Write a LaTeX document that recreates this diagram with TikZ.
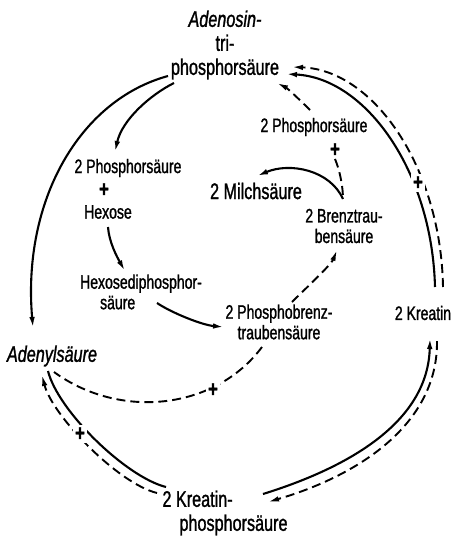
\documentclass[tikz,border=0pt]{standalone}
\usepackage{fontspec}
\setmainfont[FakeStretch=0.72, FakeBold=1.2]{Liberation Sans}
\usepackage{tikz}
\usetikzlibrary{arrows.meta}

\begin{document}
\begin{tikzpicture}[x=1pt, y=1pt,
    every node/.style={inner sep=1pt},
    bigtext/.style={font=\fontsize{22.5}{24}\selectfont},
    midtext/.style={font=\fontsize{19.5}{20.5}\selectfont},
    plussign/.style={font=\fontsize{23}{23}\selectfont\bfseries, fill=white, inner sep=2pt},
    fwd/.style={line width=2.1pt},
    rev/.style={line width=1.9pt, dash pattern=on 9pt off 5pt},
    tip/.style={-{Latex[length=11pt,width=5.5pt]}}]
    \useasboundingbox (0,0) rectangle (456,-536);

    % substances
    \node[bigtext, align=center] (atp) at (225,-45) {{\itshape Adenosin-}\\tri-\\phosphorsäure};
    \node[midtext] (phosA) at (128,-168) {2 Phosphorsäure};
    \node[midtext] (hexose) at (108,-212) {Hexose};
    \node[midtext, align=left] (hdp) at (141,-292) {Hexosediphosphor-\\\hspace*{20pt}säure};
    \node[midtext, align=center] (pbt) at (279,-322) {2 Phosphobrenz-\\traubensäure};
    \node[midtext, align=center] (bt) at (344,-226) {2 Brenztrau-\\bensäure};
    \node[bigtext] (milch) at (256,-191) {2 Milchsäure};
    \node[midtext] (phosB) at (314,-127) {2 Phosphorsäure};
    \node[bigtext] (adenyl) at (52,-356) {\itshape Adenylsäure};
    \node[midtext] (kreatin) at (423,-313) {2 Kreatin};
    \node[bigtext, align=left] (kp) at (225,-513) {2 Kreatin-\\\hspace*{17pt}phosphorsäure};
    \coordinate (vtip) at ([shift={(-1pt,27pt)}]bt.center);

    % glycolysis side
    \draw[fwd, tip] ([shift={(-57pt,-31pt)}]atp.center) .. controls +(-88,-24) and +(-11,128) .. ([shift={(-19pt,28pt)}]adenyl.center);
    \draw[fwd, tip] ([shift={(-51pt,-38pt)}]atp.center) .. controls +(-24,-12) and +(7,32) .. ([shift={(-13pt,16pt)}]phosA.center);
    \draw[fwd, tip] ([yshift=-15pt]hexose.center) .. controls +(1,-15) and +(-8,14) .. ([shift={(-16pt,21pt)}]hdp.center);
    \draw[fwd, tip] ([shift={(16pt,-11pt)}]hdp.center) .. controls +(15,-10) and +(-22,2) .. ([shift={(-55pt,-5pt)}]pbt.center);
    \draw[rev, tip] ([shift={(13pt,20pt)}]pbt.center) .. controls +(12,12) and +(-6,-15) .. ([shift={(-7pt,-24pt)}]bt.center);
    \draw[rev] ([shift={(-17pt,-25pt)}]pbt.center) .. controls +(-47,-63) and +(66,-48) .. ([shift={(2pt,-16pt)}]adenyl.center);
    \draw[rev, tip] ([shift={(-4pt,17pt)}]phosB.center) .. controls +(-10,10) and +(10,-5) .. ([shift={(52pt,-38pt)}]atp.center);
    \draw[fwd, tip] (vtip) .. controls +(-13,29) and +(33,14) .. ([shift={(1pt,15pt)}]milch.center);

    % creatine cycle
    \draw[fwd, tip] ([shift={(12pt,26pt)}]kreatin.center) .. controls +(-3,117) and +(79,-4) .. ([shift={(61pt,-29pt)}]atp.center);
    \draw[rev, tip] ([shift={(20pt,26pt)}]kreatin.center) .. controls +(-2,119) and +(82,-3) .. ([shift={(67pt,-22pt)}]atp.center);
    \draw[fwd, tip] ([shift={(38pt,19pt)}]kp.center) .. controls +(90,28) and +(-2,-82) .. ([shift={(7pt,-25pt)}]kreatin.center);
    \draw[rev, tip] ([shift={(14pt,-28pt)}]kreatin.center) .. controls +(1,-84) and +(89,26) .. ([shift={(43pt,11pt)}]kp.center);
    \draw[fwd] ([shift={(-59pt,26pt)}]kp.center) .. controls +(-40,10) and +(10,-40) .. ([shift={(-4pt,-15pt)}]adenyl.center);
    \draw[rev, tip] ([shift={(-68pt,20pt)}]kp.center) .. controls +(-40,10) and +(10,-40) .. ([shift={(-10pt,-19pt)}]adenyl.center);

    % plus signs
    \node[plussign] (plusA) at (104,-190) {+};
    \node[plussign] (plusB) at (335,-150) {+};
    \node[plussign] (plusC) at (80,-434) {+};
    \node[plussign] (plusD) at (418,-183) {+};
    \node[plussign] (plusE) at (213,-390) {+};
    \draw[rev] (plusB.south) .. controls +(5,-12) and +(0,12) .. (vtip);
\end{tikzpicture}
\end{document}
